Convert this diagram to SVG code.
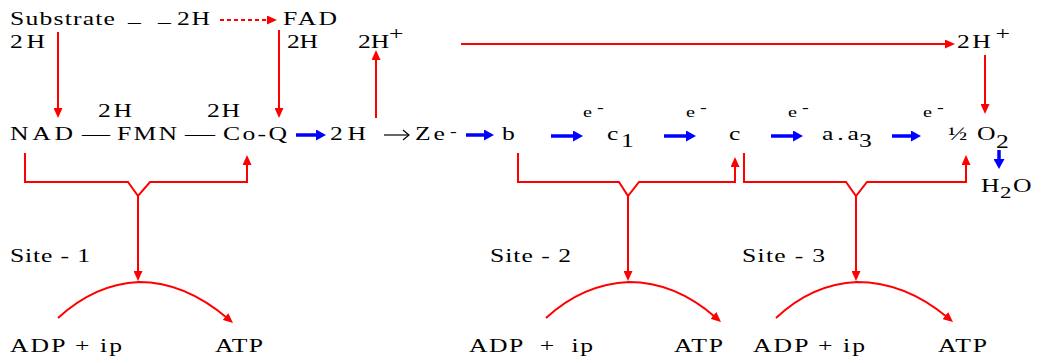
<svg xmlns="http://www.w3.org/2000/svg" width="1041" height="363" viewBox="0 0 1041 363">
<style>
text{font-family:"Liberation Serif","Times New Roman",serif;font-size:19px;fill:#000}
.s{font-size:15px}
.sub{font-size:17px}
.r{stroke:#ff0000;stroke-width:2;fill:none}
.b{stroke:#0000ff;stroke-width:3.5;fill:none}
</style>
<defs>
<marker id="ar" markerUnits="userSpaceOnUse" markerWidth="10" markerHeight="9" refX="3" refY="4.5" orient="auto"><path d="M0,0 L10,4.5 L0,9 z" fill="#ff0000"/></marker>
<marker id="ab" markerUnits="userSpaceOnUse" markerWidth="10" markerHeight="11" refX="3" refY="5.5" orient="auto"><path d="M0,0 L10,5.5 L0,11 z" fill="#0000ff"/></marker>
<marker id="ak" markerUnits="userSpaceOnUse" markerWidth="10" markerHeight="12" refX="7" refY="6" orient="auto"><path d="M1,1 L7,6 L1,11" fill="none" stroke="#000" stroke-width="1.2"/></marker>
</defs>
<rect width="1041" height="363" fill="#fff"/>
<g id="connectors">
<line class="r" x1="220" y1="20" x2="270" y2="20" stroke-dasharray="4,3" marker-end="url(#ar)"/>
<line class="r" x1="58" y1="32" x2="58" y2="111" marker-end="url(#ar)"/>
<line class="r" x1="279" y1="30" x2="279" y2="111" marker-end="url(#ar)"/>
<line class="r" x1="376" y1="118" x2="376" y2="57" marker-end="url(#ar)"/>
<line class="r" x1="461" y1="44" x2="948" y2="44" marker-end="url(#ar)"/>
<line class="r" x1="985" y1="55" x2="985" y2="107" marker-end="url(#ar)"/>
<path class="r" d="M25,153 V182 H128 L138,196 L150,182 H247 V162" marker-end="url(#ar)"/>
<path class="r" d="M138,196 V274" marker-end="url(#ar)"/>
<path class="r" d="M518,153 V182 H619 L628,196 L639,182 H735 V164" marker-end="url(#ar)"/>
<path class="r" d="M628,196 V274" marker-end="url(#ar)"/>
<path class="r" d="M744,153 V182 H846 L856,196 L867,182 H966 V162" marker-end="url(#ar)"/>
<path class="r" d="M856,196 V274" marker-end="url(#ar)"/>
<path class="r" d="M58,318 Q95,284 139,282 Q185,282 227.7,318.5" stroke-width="1.5" marker-end="url(#ar)"/>
<path class="r" d="M546,318 Q583,284 629,282 Q675,282 715.7,317.4" stroke-width="1.5" marker-end="url(#ar)"/>
<path class="r" d="M776,318 Q812,284 857,282 Q905,282 947.6,317.5" stroke-width="1.5" marker-end="url(#ar)"/>
<line x1="384" y1="135" x2="409" y2="135" stroke="#000" stroke-width="1.2" marker-end="url(#ak)"/>
<line class="b" x1="296" y1="135" x2="319" y2="135" marker-end="url(#ab)"/>
<line class="b" x1="466" y1="135" x2="487" y2="135" marker-end="url(#ab)"/>
<line class="b" x1="551" y1="136" x2="576" y2="136" marker-end="url(#ab)"/>
<line class="b" x1="664" y1="136" x2="689" y2="136" marker-end="url(#ab)"/>
<line class="b" x1="771" y1="136" x2="796" y2="136" marker-end="url(#ab)"/>
<line class="b" x1="892" y1="136" x2="914" y2="136" marker-end="url(#ab)"/>
<line class="b" x1="999" y1="150" x2="999" y2="162" marker-end="url(#ab)"/>
</g>
<g transform="scale(1.35 1)">
<g id="substrate">
<text x="7.41" y="25" textLength="77.78">Substrate</text>
<text x="94.81" y="22">_</text>
<text x="117.04" y="22">_</text>
<text x="131.11" y="25" textLength="24.44">2H</text>
</g>
<g id="fad"><text x="209.63" y="25" textLength="40">FAD</text></g>
<g id="lbl-2h-left"><text x="7.41" y="48" textLength="26">2H</text></g>
<g id="lbl-2h-fad"><text x="212.59" y="48" textLength="22.96">2H</text></g>
<g id="h-plus-1"><text x="265.19" y="48">2H</text><text x="288.15" y="40">+</text></g>
<g id="h-plus-2"><text x="708.89" y="48" textLength="25">2H</text><text x="737.5" y="40">+</text></g>
<g id="lbl-2h-fmn"><text x="72.59" y="117" textLength="25.19">2H</text></g>
<g id="lbl-2h-coq"><text x="153.33" y="117" textLength="24.44">2H</text></g>
<g id="nad"><text x="7.41" y="140" textLength="46.67">NAD</text></g>
<text x="60.74" y="140" textLength="20.74" lengthAdjust="spacingAndGlyphs">—</text>
<g id="fmn"><text x="86.67" y="140" textLength="44.44">FMN</text></g>
<text x="137.04" y="140" textLength="22.22" lengthAdjust="spacingAndGlyphs">—</text>
<g id="coq"><text x="165.19" y="140" textLength="47.41">Co-Q</text></g>
<g id="h2"><text x="244.44" y="140" textLength="26.67">2H</text></g>
<g id="ze"><text x="307.41" y="140" textLength="22.2">Ze</text><text class="s" x="333.3" y="136">-</text></g>
<g id="cyt-b"><text x="371.85" y="140">b</text></g>
<g id="cyt-c1"><text x="449.63" y="140">c</text><text x="460" y="147">1</text></g>
<g id="cyt-c"><text x="540" y="140">c</text></g>
<g id="cyt-aa3"><text x="608.89" y="140" textLength="27.41">a.a</text><text x="636.3" y="147">3</text></g>
<g id="oxygen"><text x="702.22" y="140">½</text><text x="723.7" y="140">O</text><text x="737.78" y="148">2</text></g>
<g id="water"><text x="726.67" y="192">H</text><text class="sub" x="740.74" y="198">2</text><text x="750.37" y="192">O</text></g>
<g id="e-labels">
<text class="s" x="431.85" y="117">e</text><text class="s" x="442.22" y="112">-</text>
<text class="s" x="508.15" y="117">e</text><text class="s" x="518.52" y="112">-</text>
<text class="s" x="583.7" y="117">e</text><text class="s" x="594.07" y="112">-</text>
<text class="s" x="683.7" y="117">e</text><text class="s" x="694.07" y="112">-</text>
</g>
<g id="site-1">
<text x="7.41" y="262" textLength="59.26">Site - 1</text>
<text x="7.41" y="352" textLength="82.96">ADP + ip</text>
<text x="159.26" y="352" textLength="35.56">ATP</text>
</g>
<g id="site-2">
<text x="362.96" y="262" textLength="60">Site - 2</text>
<text x="347.41" y="352" textLength="91.85" xml:space="preserve">ADP  +  ip</text>
<text x="499.26" y="352" textLength="36.3">ATP</text>
</g>
<g id="site-3">
<text x="549.63" y="262" textLength="61.48">Site - 3</text>
<text x="557.78" y="352" textLength="82.96">ADP + ip</text>
<text x="694.81" y="352" textLength="36.3">ATP</text>
</g>
</g>
</svg>
